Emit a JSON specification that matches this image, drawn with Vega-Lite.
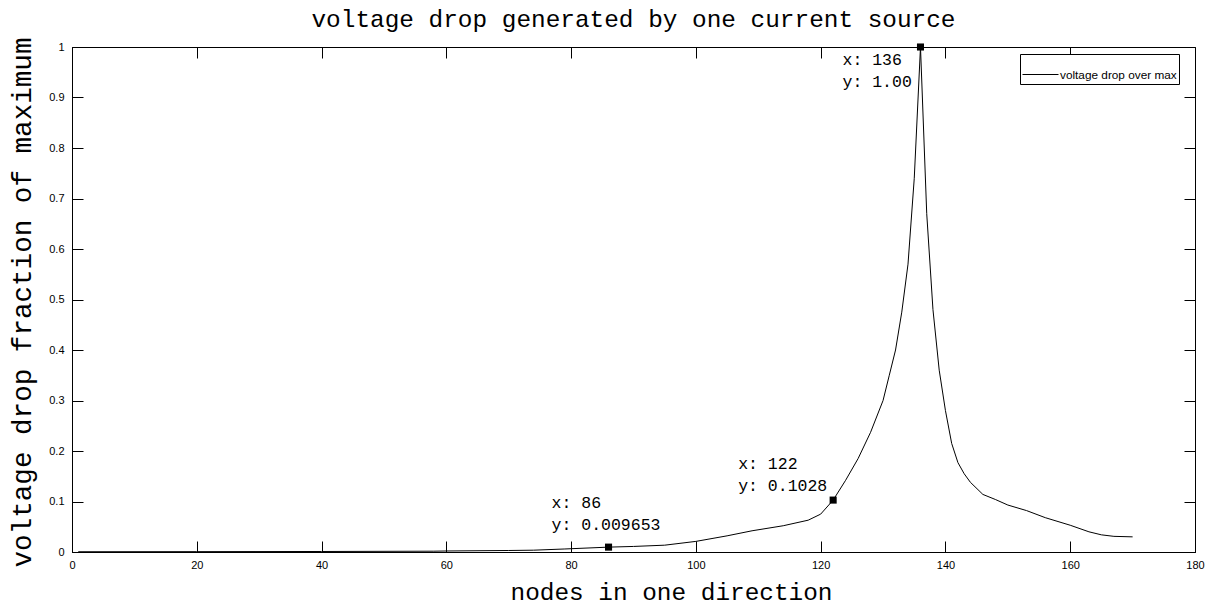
{
  "$schema": "https://vega.github.io/schema/vega-lite/v6.json",
  "width": 1123,
  "height": 505,
  "autosize": {"type": "none"},
  "padding": {"left": 72, "top": 47, "right": 14, "bottom": 56},
  "background": "white",
  "config": {
    "view": {"stroke": "black", "strokeWidth": 1},
    "axis": {
      "domainColor": "black",
      "tickColor": "black",
      "labelColor": "black",
      "grid": false,
      "labelFlush": false,
      "labelOverlap": false,
      "labelFont": "Liberation Sans, Arial, sans-serif",
      "labelFontSize": 11,
      "titleFont": "Liberation Mono, Courier New, monospace",
      "titleFontWeight": "normal",
      "titleColor": "black"
    }
  },
  "title": {
    "text": "voltage drop generated by one current source",
    "font": "Liberation Mono, Courier New, monospace",
    "fontSize": 24.4,
    "fontWeight": "normal",
    "color": "black",
    "anchor": "middle",
    "offset": 5
  },
  "datasets": {
    "curve": [
      {"node": 1, "v": 0.0005},
      {"node": 20, "v": 0.0007},
      {"node": 40, "v": 0.001},
      {"node": 58, "v": 0.0016},
      {"node": 60, "v": 0.002},
      {"node": 70, "v": 0.003},
      {"node": 74, "v": 0.0036},
      {"node": 79, "v": 0.006},
      {"node": 86, "v": 0.009653},
      {"node": 90, "v": 0.011},
      {"node": 95, "v": 0.0135},
      {"node": 100, "v": 0.021},
      {"node": 105, "v": 0.032},
      {"node": 109, "v": 0.042},
      {"node": 114, "v": 0.052},
      {"node": 118, "v": 0.063},
      {"node": 120, "v": 0.075},
      {"node": 122, "v": 0.1028},
      {"node": 124, "v": 0.142},
      {"node": 126, "v": 0.185},
      {"node": 128, "v": 0.237},
      {"node": 130, "v": 0.3},
      {"node": 131, "v": 0.35},
      {"node": 132, "v": 0.4},
      {"node": 133, "v": 0.475},
      {"node": 134, "v": 0.57},
      {"node": 135, "v": 0.74},
      {"node": 136, "v": 1.0},
      {"node": 137, "v": 0.67},
      {"node": 138, "v": 0.48},
      {"node": 139, "v": 0.36},
      {"node": 140, "v": 0.28},
      {"node": 141, "v": 0.215},
      {"node": 142, "v": 0.177},
      {"node": 143, "v": 0.155},
      {"node": 144, "v": 0.138},
      {"node": 146, "v": 0.114},
      {"node": 148, "v": 0.104},
      {"node": 150, "v": 0.093},
      {"node": 153, "v": 0.082},
      {"node": 156, "v": 0.068},
      {"node": 160, "v": 0.053},
      {"node": 163, "v": 0.04},
      {"node": 165, "v": 0.034},
      {"node": 167, "v": 0.031},
      {"node": 170, "v": 0.03}
    ],
    "tips": [
      {"node": 86, "v": 0.009653, "label": "x: 86\ny: 0.009653"},
      {"node": 122, "v": 0.1028, "label": "x: 122\ny: 0.1028"},
      {"node": 136, "v": 1.0, "label": "x: 136\ny: 1.00"}
    ]
  },
  "resolve": {"axis": {"x": "independent", "y": "independent"}},
  "layer": [
    {
      "data": {"name": "curve"},
      "mark": {"type": "line", "strokeWidth": 1, "interpolate": "linear"},
      "encoding": {
        "x": {
          "field": "node", "type": "quantitative",
          "scale": {"domain": [0, 180], "nice": false, "zero": false},
          "axis": {
            "orient": "bottom", "values": [0, 20, 40, 60, 80, 100, 120, 140, 160, 180],
            "tickSize": -11, "labelPadding": 18, "format": "d",
            "title": "nodes in one direction", "titleFontSize": 24.4,
            "titleBaseline": "alphabetic", "titleY": 47, "titleX": 599, "titleAnchor": "middle", "titleAlign": "center"
          }
        },
        "y": {
          "field": "v", "type": "quantitative",
          "scale": {"domain": [0, 1], "nice": false},
          "axis": {
            "orient": "left", "values": [0, 0.1, 0.2, 0.3, 0.4, 0.5, 0.6, 0.7, 0.8, 0.9, 1],
            "tickSize": -11, "labelPadding": 19, "format": "~g",
            "title": "voltage drop fraction of maximum", "titleFontSize": 27.6,
            "titleAngle": -90, "titleBaseline": "alphabetic", "titleAlign": "center",
            "titleX": -42, "titleY": 255
          }
        },
        "color": {
          "datum": "voltage drop over max",
          "scale": {"range": ["black"]},
          "legend": {
            "title": null,
            "orient": "none",
            "legendX": 948,
            "legendY": 7,
            "strokeColor": "black",
            "fillColor": "white",
            "padding": 2,
            "symbolType": "stroke",
            "symbolSize": 1296,
            "symbolStrokeWidth": 1,
            "symbolStrokeColor": "black",
            "labelFont": "Liberation Sans, Arial, sans-serif",
            "labelFontSize": 11.8,
            "labelColor": "black",
            "labelOffset": 1
          }
        }
      }
    },
    {
      "data": {"name": "tips"},
      "mark": {"type": "point", "shape": "square", "filled": true, "size": 50, "color": "black", "opacity": 1},
      "encoding": {
        "x": {
          "field": "node", "type": "quantitative",
          "scale": {"domain": [0, 180], "nice": false, "zero": false},
          "axis": {"orient": "top", "values": [20, 40, 60, 80, 100, 120, 140, 160], "tickSize": -11, "labels": false, "title": null}
        },
        "y": {
          "field": "v", "type": "quantitative",
          "scale": {"domain": [0, 1], "nice": false},
          "axis": {"orient": "right", "values": [0.1, 0.2, 0.3, 0.4, 0.5, 0.6, 0.7, 0.8, 0.9], "tickSize": -11, "labels": false, "title": null}
        }
      }
    },
    {
      "data": {"name": "tips"},
      "transform": [{"filter": "datum.node == 86"}],
      "mark": {"type": "text", "align": "left", "baseline": "middle", "lineBreak": "\n", "lineHeight": 22, "dx": -57, "dy": -44.3, "font": "Liberation Mono, Courier New, monospace", "fontSize": 16.5, "color": "black"},
      "encoding": {
        "x": {"field": "node", "type": "quantitative", "axis": null},
        "y": {"field": "v", "type": "quantitative", "axis": null},
        "text": {"field": "label"}
      }
    },
    {
      "data": {"name": "tips"},
      "transform": [{"filter": "datum.node == 122"}],
      "mark": {"type": "text", "align": "left", "baseline": "middle", "lineBreak": "\n", "lineHeight": 22, "dx": -95, "dy": -35.6, "font": "Liberation Mono, Courier New, monospace", "fontSize": 16.5, "color": "black"},
      "encoding": {
        "x": {"field": "node", "type": "quantitative", "axis": null},
        "y": {"field": "v", "type": "quantitative", "axis": null},
        "text": {"field": "label"}
      }
    },
    {
      "data": {"name": "tips"},
      "transform": [{"filter": "datum.node == 136"}],
      "mark": {"type": "text", "align": "left", "baseline": "middle", "lineBreak": "\n", "lineHeight": 22, "dx": -78, "dy": 13.2, "font": "Liberation Mono, Courier New, monospace", "fontSize": 16.5, "color": "black"},
      "encoding": {
        "x": {"field": "node", "type": "quantitative", "axis": null},
        "y": {"field": "v", "type": "quantitative", "axis": null},
        "text": {"field": "label"}
      }
    }
  ]
}
